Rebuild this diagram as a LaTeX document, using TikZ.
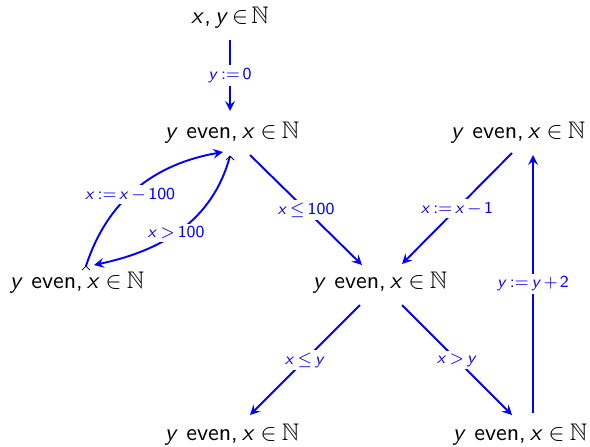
\documentclass[tikz,border=0pt]{standalone}
\usepackage{amssymb}
\usetikzlibrary{calc}
\renewcommand\familydefault{\sfdefault}
\DeclareSymbolFont{sfitalic}{OT1}{cmss}{m}{sl}
\DeclareSymbolFont{sfupright}{OT1}{cmss}{m}{n}
\DeclareMathSymbol{x}{\mathalpha}{sfitalic}{`x}
\DeclareMathSymbol{y}{\mathalpha}{sfitalic}{`y}
\DeclareMathSymbol{0}{\mathalpha}{sfupright}{`0}
\DeclareMathSymbol{1}{\mathalpha}{sfupright}{`1}
\DeclareMathSymbol{2}{\mathalpha}{sfupright}{`2}
\DeclareMathSymbol{+}{\mathbin}{sfupright}{`+}
\DeclareMathSymbol{=}{\mathrel}{sfupright}{`=}
\DeclareMathSymbol{:}{\mathrel}{sfupright}{`:}
\DeclareMathSymbol{,}{\mathpunct}{sfupright}{`,}
\newcommand{\stateY}{$\thickmuskip=4mu y\ \mathsf{even}, x \in \mathbb{N}$}
\newcommand{\lm}[1]{$\thickmuskip=2.5mu\medmuskip=2mu #1$}
\begin{document}
\begin{tikzpicture}[x=0.4166pt,y=-0.4166pt,
  trans/.style={blue, line width=0.8pt, ->, >=stealth},
  lbl/.style={fill=white, text=blue, font=\scriptsize, inner sep=1.2pt},
  tick/.style={black, line width=0.3pt}]
\useasboundingbox (0,0) rectangle (590,446);
\node[inner sep=0pt] (top) at (230,18) {\lm{x, y \in \mathbb{N}}};
\node[inner sep=0pt] (A) at (232,133) {\stateY};
\node[inner sep=0pt] (L) at (77,283) {\stateY};
\node[inner sep=0pt] (C) at (380,283) {\stateY};
\node[inner sep=0pt] (R) at (518,133) {\stateY};
\node[inner sep=0pt] (BL) at (232,435) {\stateY};
\node[inner sep=0pt] (BR) at (520,435) {\stateY};
% anchor points
\coordinate (tS) at (230,40);
\coordinate (aN) at (230,111);
\coordinate (aS1) at (250,155);
\coordinate (cN1) at (362,265);
\coordinate (rS1) at (512,153);
\coordinate (cN2) at (402,264);
\coordinate (cS1) at (360,305);
\coordinate (blN) at (250,415);
\coordinate (cS2) at (402,305);
\coordinate (brN) at (512,415);
\coordinate (brN2) at (533,413);
\coordinate (rS2) at (533,155);
\coordinate (lN1) at (86,266);
\coordinate (aW) at (223,152);
\coordinate (aS2) at (230,156);
\coordinate (lE) at (94,265);
\draw[trans] (tS) -- node[lbl] {\lm{y := 0}} (aN);
\draw[trans] (aS1) -- node[lbl] {\lm{x \leq 100}} (cN1);
\draw[trans] (rS1) -- node[lbl] {\lm{x := x - 1}} (cN2);
\draw[trans] (cS1) -- node[lbl] {\lm{x \leq y}} (blN);
\draw[trans] (cS2) -- node[lbl] {\lm{x > y}} (brN);
\draw[trans] (brN2) -- node[lbl] {\lm{y := y + 2}} (rS2);
\draw[trans] (lN1) to[out=72,in=190] node[lbl, pos=0.45] {\lm{x := x - 100}} (aW);
\draw[trans] (aS2) to[out=-105,in=12] node[lbl, pos=0.53] {\lm{x > 100}} (lE);
\draw[tick] ($(aS2)+(-4,4)$) -- (aS2) -- ($(aS2)+(4,4)$);
\draw[tick] ($(lN1)+(-4,4)$) -- (lN1) -- ($(lN1)+(4,4)$);
\end{tikzpicture}
\end{document}
